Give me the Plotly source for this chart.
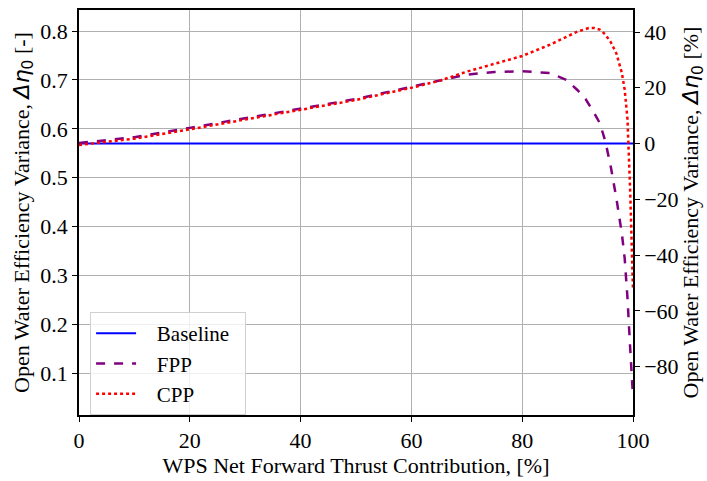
import plotly.graph_objects as go

# WPS net forward thrust contribution [%]
fpp_x = [0, 10, 20, 30, 40, 50, 60, 65, 70, 75, 80, 85, 88, 90, 91.5, 93, 94, 95, 96, 97, 98, 98.5, 99, 99.5, 100]
fpp_eta = [0.571, 0.583, 0.602, 0.622, 0.642, 0.661, 0.686, 0.698, 0.711, 0.716, 0.718, 0.714, 0.700, 0.679, 0.660, 0.632, 0.612, 0.575, 0.522, 0.458, 0.385, 0.335, 0.255, 0.150, 0.052]

cpp_x = [0, 10, 20, 30, 40, 50, 60, 65, 70, 75, 80, 85, 88, 90, 92, 93, 94, 95, 96, 97, 98, 98.5, 99, 99.5, 100]
cpp_eta = [0.567, 0.580, 0.599, 0.619, 0.639, 0.659, 0.684, 0.698, 0.717, 0.733, 0.749, 0.772, 0.789, 0.799, 0.806, 0.806, 0.803, 0.793, 0.777, 0.754, 0.714, 0.680, 0.620, 0.470, 0.270]

baseline_x = [0, 100]
baseline_eta = [0.57, 0.57]

eta_ref = 0.57
left_range = [0.015, 0.843]
left_ticks = [0.1, 0.2, 0.3, 0.4, 0.5, 0.6, 0.7, 0.8]
right_ticks = [-80, -60, -40, -20, 0, 20, 40]
x_ticks = [0, 20, 40, 60, 80, 100]


def to_pct(v):
    return (v / eta_ref - 1.0) * 100.0


font_main = "Liberation Serif"
fs = 22
pad = "\u00a0" * 3

fig = go.Figure()
fig.add_trace(go.Scatter(x=baseline_x, y=baseline_eta, mode="lines", name=pad + "Baseline\u00a0\u00a0",
                         line=dict(color="#0000ff", width=2)))
fig.add_trace(go.Scatter(x=fpp_x, y=fpp_eta, mode="lines", name=pad + "FPP",
                         line=dict(color="#800080", width=2.5, dash="dash")))
fig.add_trace(go.Scatter(x=cpp_x, y=cpp_eta, mode="lines", name=pad + "CPP",
                         line=dict(color="#ff0000", width=2.5, dash="dot")))
# percent-scale companion axis (baseline at 0 %)
fig.add_trace(go.Scatter(x=baseline_x, y=[to_pct(v) for v in baseline_eta], yaxis="y2",
                         mode="lines", line=dict(color="rgba(0,0,0,0)", width=0),
                         showlegend=False, hoverinfo="skip"))

delta_eta = '<span style="font-family:DejaVu Sans"><i>Δη</i><sub>0</sub></span>'
title_font = dict(family=font_main, size=fs, color="black")
tick_font = dict(family=font_main, size=fs, color="black")

fig.update_layout(
    width=707, height=481,
    margin=dict(l=79, r=73, t=8, b=58),
    plot_bgcolor="white", paper_bgcolor="white",
    font=dict(family=font_main, size=fs, color="black"),
    xaxis=dict(range=[0, 100], tickvals=x_ticks, ticks="outside", ticklen=5, tickwidth=1.2,
               tickcolor="black", showline=True, linecolor="black", linewidth=1.5, mirror=True,
               showgrid=True, gridcolor="#b0b0b0", gridwidth=1.3, zeroline=False,
               tickfont=tick_font,
               title=dict(text="WPS Net Forward Thrust Contribution, [%]", standoff=4,
                          font=title_font)),
    yaxis=dict(range=left_range, tickvals=left_ticks, ticks="outside", ticklen=5, tickwidth=1.2,
               tickcolor="black", showline=True, linecolor="black", linewidth=1.5, mirror=True,
               showgrid=True, gridcolor="#b0b0b0", gridwidth=1.3, zeroline=False,
               tickfont=tick_font,
               title=dict(text="Open Water Efficiency Variance, " + delta_eta + " [-]", standoff=5,
                          font=title_font)),
    yaxis2=dict(range=[to_pct(left_range[0]), to_pct(left_range[1])], tickvals=right_ticks,
                overlaying="y", side="right", ticks="outside", ticklen=5, tickwidth=1.2,
                tickcolor="black", showline=True, linecolor="black", linewidth=1.5,
                showgrid=False, zeroline=False, tickfont=tick_font,
                title=dict(text="Open Water Efficiency Variance, " + delta_eta + " [%]", standoff=5,
                           font=title_font)),
    legend=dict(x=0.02, y=0.0, xanchor="left", yanchor="bottom",
                bgcolor="rgba(255,255,255,0.8)", bordercolor="#d0d0d0", borderwidth=1,
                font=dict(family=font_main, size=21), tracegroupgap=0, itemwidth=40),
    showlegend=True,
)

fig.write_html("out.html")
